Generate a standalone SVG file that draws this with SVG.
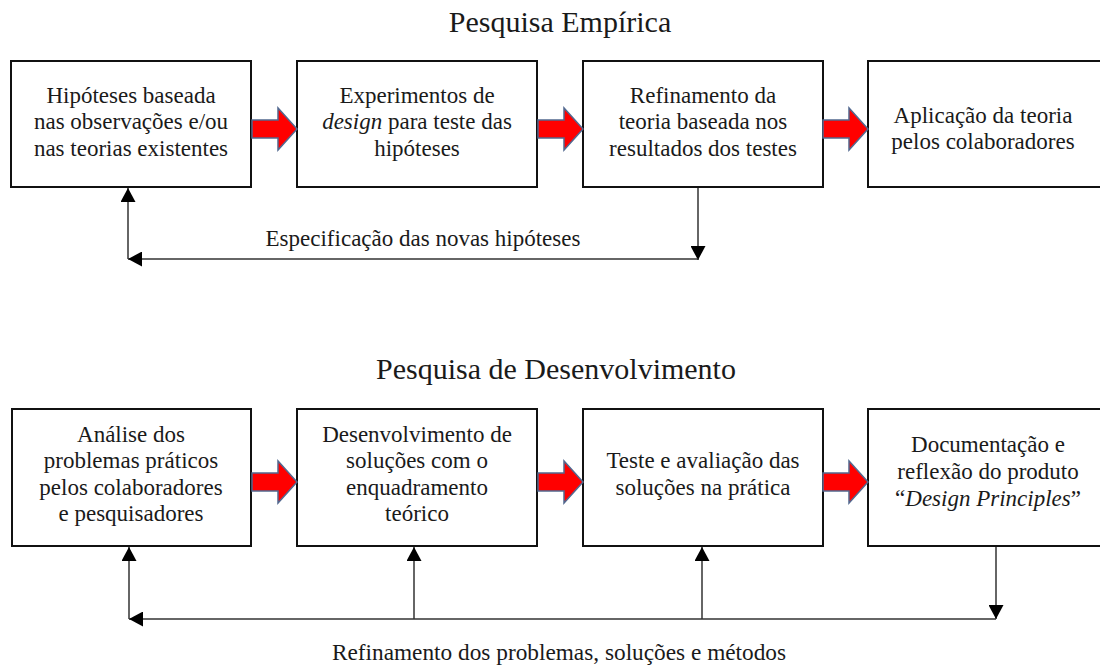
<svg xmlns="http://www.w3.org/2000/svg" width="1100" height="668" viewBox="0 0 1100 668">
<defs>
<style>
.box{fill:#fff;stroke:#111;stroke-width:2}
.t{font-family:"Liberation Serif","Times New Roman",serif;font-size:23px;fill:#1a1a1a;text-anchor:middle}
.title{font-family:"Liberation Serif","Times New Roman",serif;font-size:30px;fill:#1a1a1a;text-anchor:middle}
.i{font-style:italic}
.big{fill:#ff0000;stroke:#52688f;stroke-width:1.5;stroke-linejoin:miter}
.ln{fill:none;stroke:#333;stroke-width:1.5}
</style>
<marker id="ah" viewBox="0 0 14 15" refX="14" refY="7.5" markerWidth="14" markerHeight="15" markerUnits="userSpaceOnUse" orient="auto">
<path d="M0,0 L14,7.5 L0,15 z" fill="#000"/>
</marker>
<path id="bigarrow" d="M0,-9 H26 V-21 L45,0 L26,21 V9 H0 Z"/>
</defs>
<rect width="1100" height="668" fill="#fff"/>

<text class="title" x="560" y="32">Pesquisa Empírica</text>
<text class="title" x="556" y="379">Pesquisa de Desenvolvimento</text>

<g id="e1">
<rect class="box" x="11" y="61" width="240" height="126"/>
<text class="t" x="131" y="103">Hipóteses baseada</text>
<text class="t" x="131" y="129">nas observações e/ou</text>
<text class="t" x="131" y="156">nas teorias existentes</text>
</g>
<g id="e2">
<rect class="box" x="297" y="61" width="240" height="126"/>
<text class="t" x="417" y="103">Experimentos de</text>
<text class="t" x="417" y="129"><tspan class="i">design</tspan> para teste das</text>
<text class="t" x="417" y="156">hipóteses</text>
</g>
<g id="e3">
<rect class="box" x="583" y="61" width="240" height="126"/>
<text class="t" x="703" y="103">Refinamento da</text>
<text class="t" x="703" y="129">teoria baseada nos</text>
<text class="t" x="703" y="156">resultados dos testes</text>
</g>
<g id="e4">
<rect class="box" x="868" y="61" width="240" height="126"/>
<text class="t" x="983" y="123">Aplicação da teoria</text>
<text class="t" x="983" y="149">pelos colaboradores</text>
</g>

<g id="d1">
<rect class="box" x="12" y="409" width="239" height="137"/>
<text class="t" x="131" y="442">Análise dos</text>
<text class="t" x="131" y="468">problemas práticos</text>
<text class="t" x="131" y="495">pelos colaboradores</text>
<text class="t" x="131" y="521">e pesquisadores</text>
</g>
<g id="d2">
<rect class="box" x="297" y="409" width="240" height="137"/>
<text class="t" x="417" y="442">Desenvolvimento de</text>
<text class="t" x="417" y="468">soluções com o</text>
<text class="t" x="417" y="495">enquadramento</text>
<text class="t" x="417" y="521">teórico</text>
</g>
<g id="d3">
<rect class="box" x="583" y="409" width="240" height="137"/>
<text class="t" x="703" y="468">Teste e avaliação das</text>
<text class="t" x="703" y="495">soluções na prática</text>
</g>
<g id="d4">
<rect class="box" x="868" y="409" width="240" height="137"/>
<text class="t" x="988" y="452">Documentação e</text>
<text class="t" x="988" y="479">reflexão do produto</text>
<text class="t" x="988" y="506">“<tspan class="i">Design Principles</tspan>”</text>
</g>

<g id="connectors">
<use href="#bigarrow" class="big" transform="translate(252,129)"/>
<use href="#bigarrow" class="big" transform="translate(538,129)"/>
<use href="#bigarrow" class="big" transform="translate(823,129)"/>
<use href="#bigarrow" class="big" transform="translate(252,482)"/>
<use href="#bigarrow" class="big" transform="translate(538,482)"/>
<use href="#bigarrow" class="big" transform="translate(823,482)"/>

<path class="ln" d="M698,188 V260" marker-end="url(#ah)"/>
<path class="ln" d="M698,259 H128" marker-end="url(#ah)"/>
<path class="ln" d="M128,259 V188" marker-end="url(#ah)"/>

<path class="ln" d="M996,547 V619" marker-end="url(#ah)"/>
<path class="ln" d="M996,619 H129" marker-end="url(#ah)"/>
<path class="ln" d="M129,619 V547" marker-end="url(#ah)"/>
<path class="ln" d="M414,619 V547" marker-end="url(#ah)"/>
<path class="ln" d="M702,619 V547" marker-end="url(#ah)"/>
</g>

<text class="t" x="423" y="246">Especificação das novas hipóteses</text>
<text class="t" x="559" y="660" style="font-size:23.3px">Refinamento dos problemas, soluções e métodos</text>
</svg>
